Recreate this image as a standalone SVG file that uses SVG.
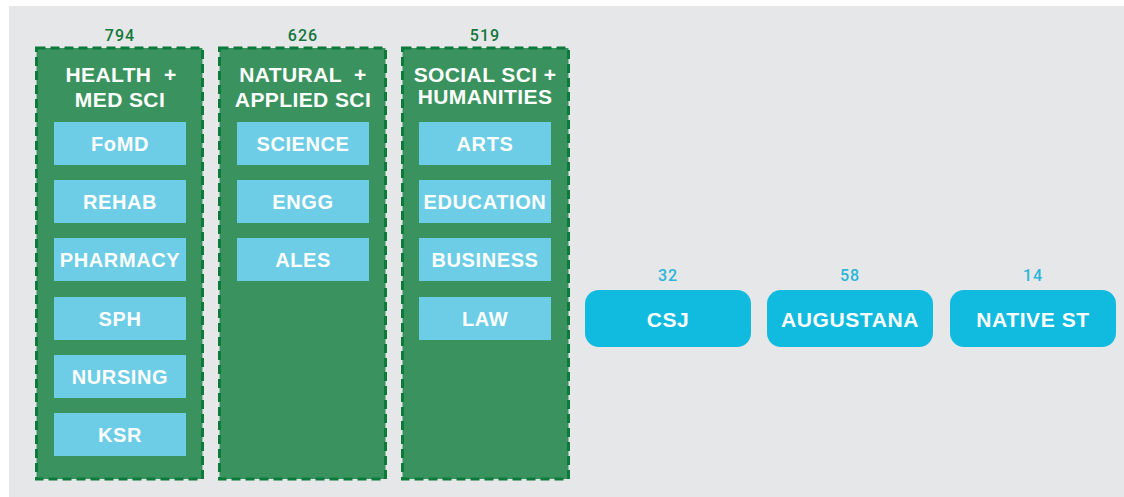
<svg xmlns="http://www.w3.org/2000/svg" width="1124" height="497" viewBox="0 0 1124 497">
<style>
.grp{fill:#3a935e;stroke:#0c7a3a;stroke-width:3;stroke-dasharray:9 5}
.unit{fill:#6dcde6}
.pill{fill:#10bbdf}
text{font-family:"Liberation Sans",Arial,sans-serif;text-anchor:middle;white-space:pre}
.ttl{fill:#fff;font-weight:bold;font-size:21px;letter-spacing:0.4px}
.lbl{fill:#fff;font-weight:bold;font-size:20px;letter-spacing:0.6px}
.pl{fill:#fff;font-weight:bold;font-size:21px;letter-spacing:0.6px}
.ng{fill:#13773c;font-size:16px;letter-spacing:1px;font-family:Roboto,"Liberation Sans",sans-serif;font-weight:500}
.nb{fill:#2bb5d8;font-size:16px;letter-spacing:1px;font-family:Roboto,"Liberation Sans",sans-serif;font-weight:500}
</style>
<rect x="0" y="0" width="1124" height="497" fill="#fff"/>
<rect x="9" y="6" width="1115" height="491" fill="#e6e7e8"/>
<g id="connectors"/>
<g id="health">
<text class="ng" x="120" y="41">794</text>
<rect class="grp" x="36.5" y="48" width="166" height="431"/>
<text class="ttl" x="121" y="82" xml:space="preserve">HEALTH  +</text>
<text class="ttl" x="120" y="107">MED SCI</text>
</g>
<g id="fomd"><rect class="unit" x="54" y="122" width="132" height="43"/><text class="lbl" x="120" y="151">FoMD</text></g>
<g id="rehab"><rect class="unit" x="54" y="180" width="132" height="43"/><text class="lbl" x="120" y="209">REHAB</text></g>
<g id="pharmacy"><rect class="unit" x="54" y="238" width="132" height="43"/><text class="lbl" x="120" y="267">PHARMACY</text></g>
<g id="sph"><rect class="unit" x="54" y="297" width="132" height="43"/><text class="lbl" x="120" y="326">SPH</text></g>
<g id="nursing"><rect class="unit" x="54" y="355" width="132" height="43"/><text class="lbl" x="120" y="384">NURSING</text></g>
<g id="ksr"><rect class="unit" x="54" y="413" width="132" height="43"/><text class="lbl" x="120" y="442">KSR</text></g>
<g id="natural">
<text class="ng" x="303" y="41">626</text>
<rect class="grp" x="219.5" y="48" width="166" height="431"/>
<text class="ttl" x="303" y="82" xml:space="preserve">NATURAL  +</text>
<text class="ttl" x="303" y="107">APPLIED SCI</text>
</g>
<g id="science"><rect class="unit" x="237" y="122" width="132" height="43"/><text class="lbl" x="303" y="151">SCIENCE</text></g>
<g id="engg"><rect class="unit" x="237" y="180" width="132" height="43"/><text class="lbl" x="303" y="209">ENGG</text></g>
<g id="ales"><rect class="unit" x="237" y="238" width="132" height="43"/><text class="lbl" x="303" y="267">ALES</text></g>
<g id="social">
<text class="ng" x="485" y="41">519</text>
<rect class="grp" x="402.5" y="48" width="166" height="431"/>
<text class="ttl" x="485" y="82">SOCIAL SCI +</text>
<text class="ttl" x="485" y="104">HUMANITIES</text>
</g>
<g id="arts"><rect class="unit" x="419" y="122" width="132" height="43"/><text class="lbl" x="485" y="151">ARTS</text></g>
<g id="education"><rect class="unit" x="419" y="180" width="132" height="43"/><text class="lbl" x="485" y="209">EDUCATION</text></g>
<g id="business"><rect class="unit" x="419" y="238" width="132" height="43"/><text class="lbl" x="485" y="267">BUSINESS</text></g>
<g id="law"><rect class="unit" x="419" y="297" width="132" height="43"/><text class="lbl" x="485" y="326">LAW</text></g>
<g id="csj"><text class="nb" x="668" y="281">32</text><rect class="pill" x="585" y="290" width="166" height="57" rx="14"/><text class="pl" x="668" y="327">CSJ</text></g>
<g id="augustana"><text class="nb" x="850" y="281">58</text><rect class="pill" x="767" y="290" width="166" height="57" rx="14"/><text class="pl" x="850" y="327">AUGUSTANA</text></g>
<g id="native"><text class="nb" x="1033" y="281">14</text><rect class="pill" x="950" y="290" width="166" height="57" rx="14"/><text class="pl" x="1033" y="327">NATIVE ST</text></g>
</svg>
